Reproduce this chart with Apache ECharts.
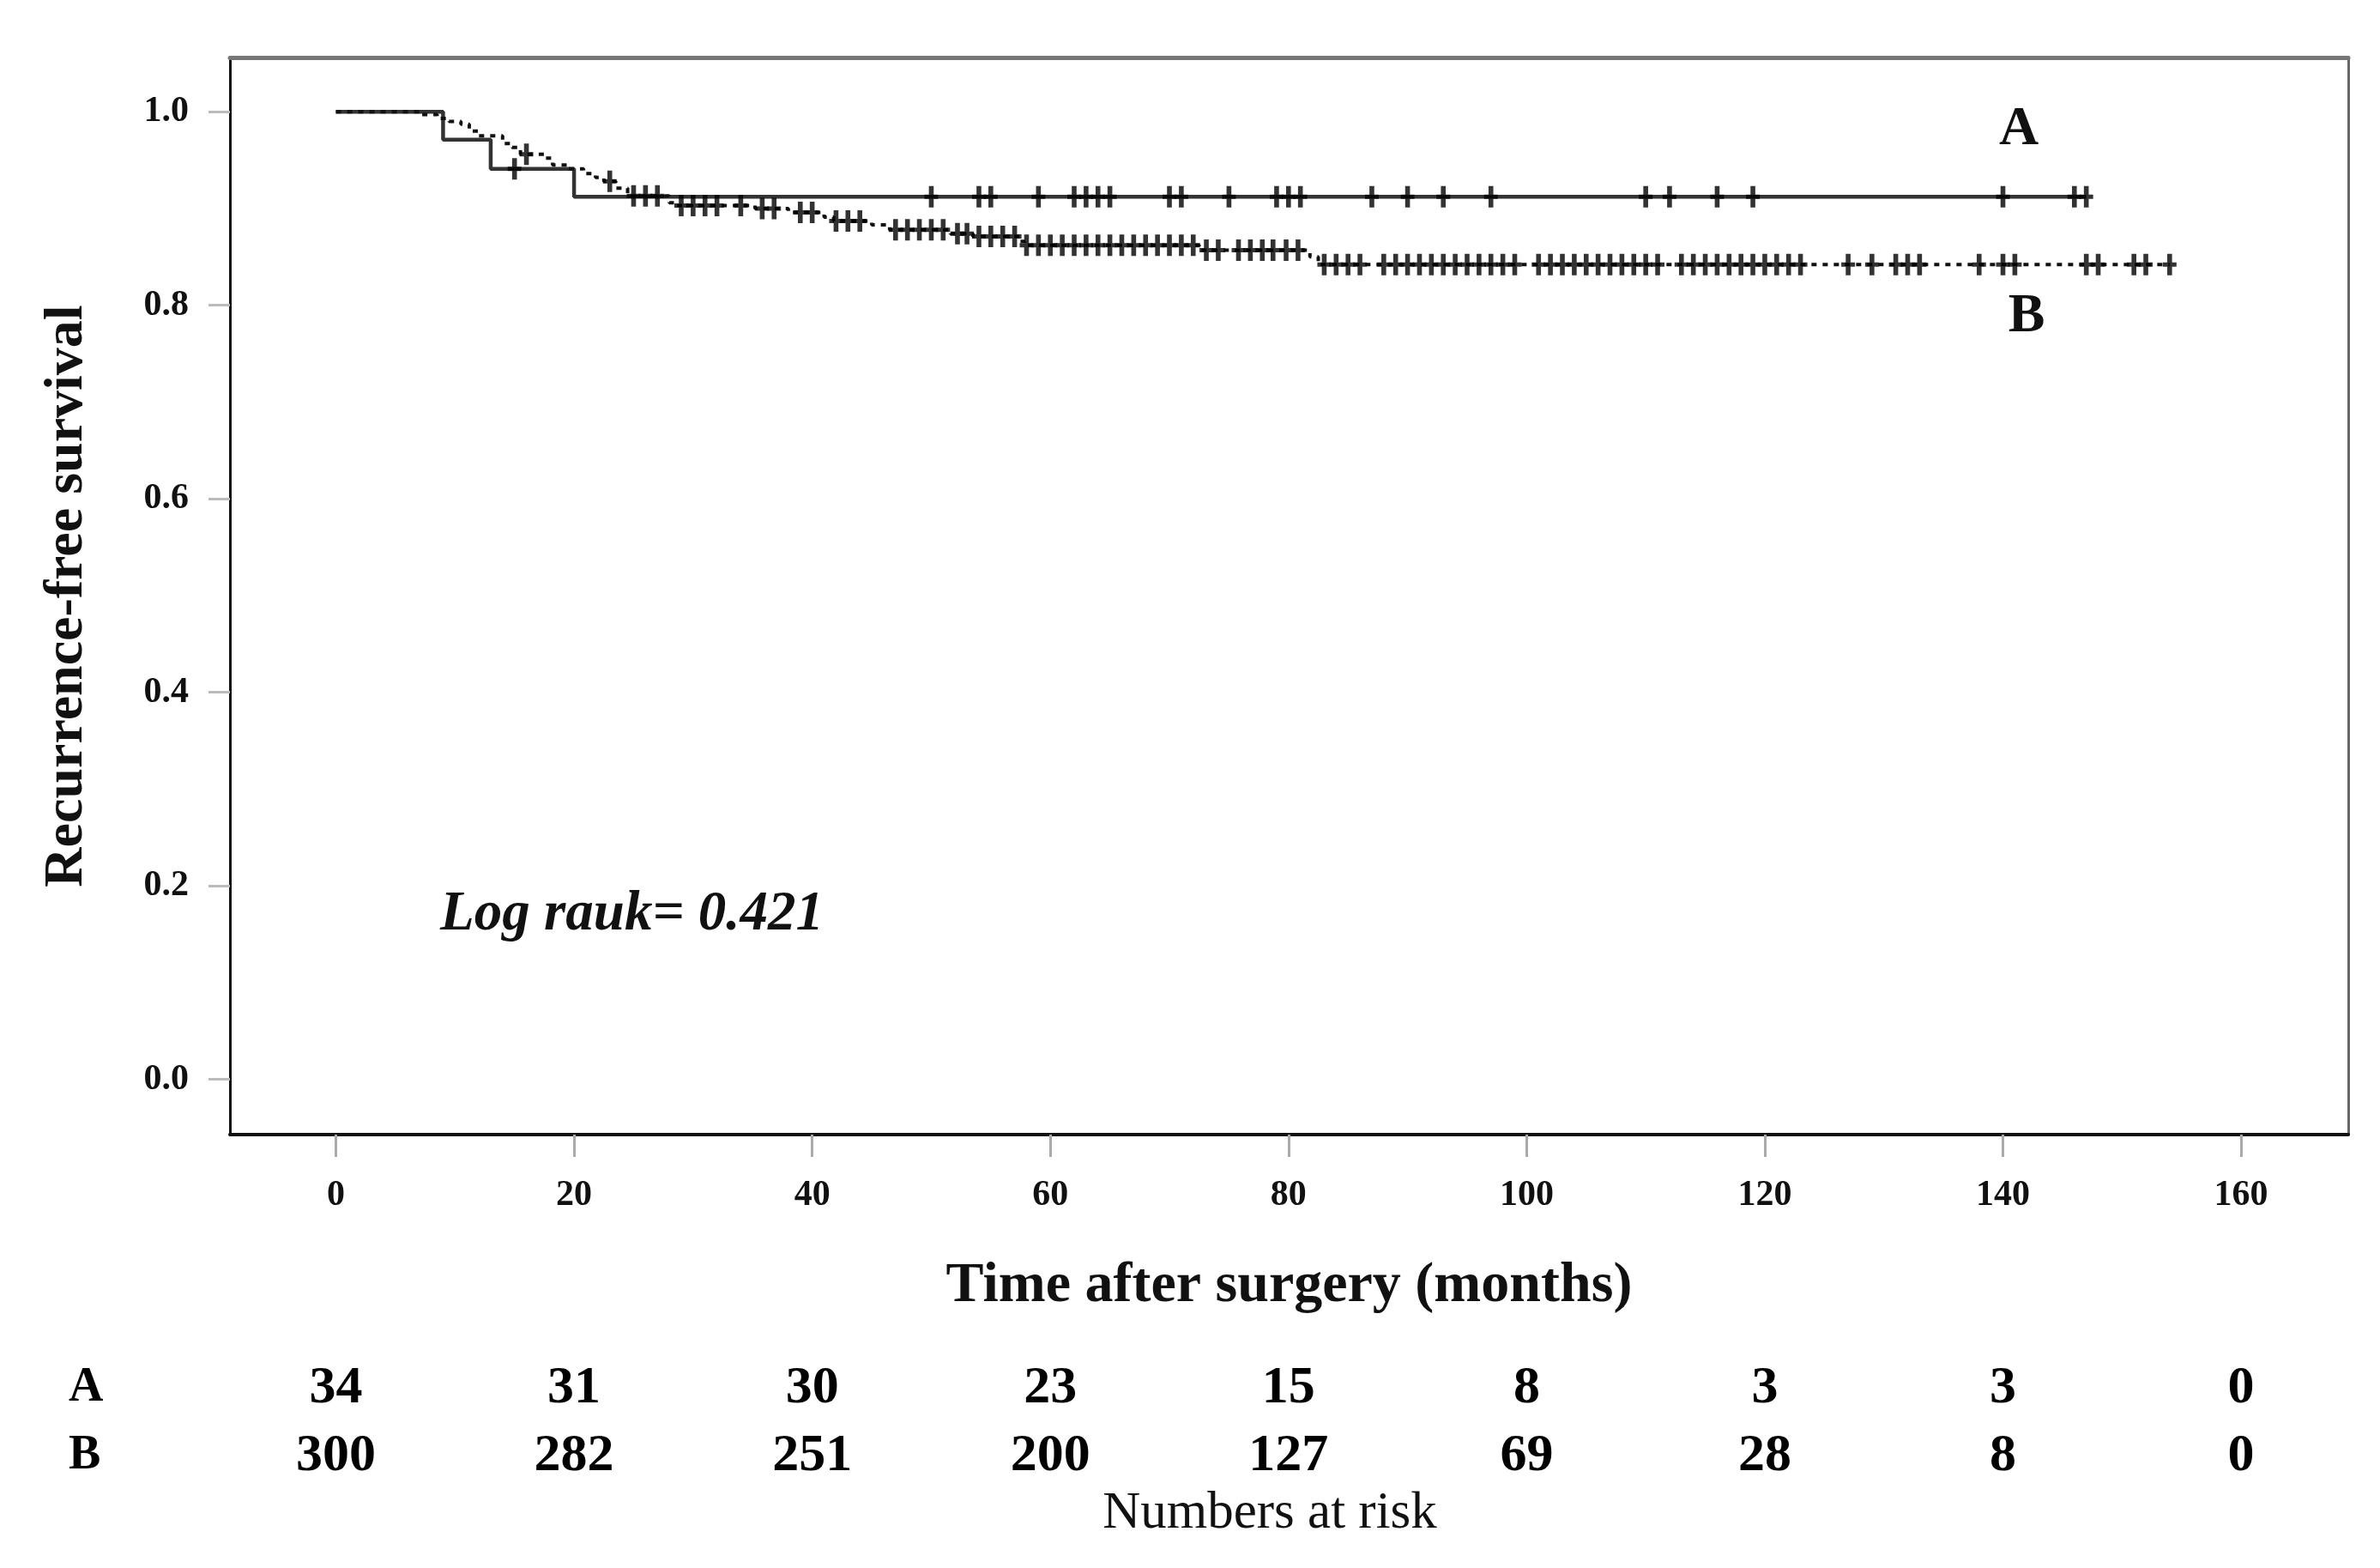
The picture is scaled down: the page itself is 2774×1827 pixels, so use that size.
<!DOCTYPE html>
<html><head><meta charset="utf-8">
<script src="https://cdn.jsdelivr.net/npm/echarts@6/dist/echarts.min.js"></script>
<style>html,body{margin:0;padding:0;background:#fff}#c{width:2774px;height:1827px}</style>
</head><body><div id="c"></div>
<script>
// Group A (solid line) Kaplan-Meier steps
const aTimes = [0, 9, 13, 20, 147];
const aSurv  = [1.0, 0.971, 0.941, 0.912, 0.912];
const aCensor = [15, 50, 54, 55, 59, 62, 63, 64, 65, 70, 71, 75, 79, 80, 81, 87, 90, 93, 97, 110, 112, 116, 119, 140, 146, 147];

// Group B (dotted line) Kaplan-Meier steps
const bTimes = [0, 7, 8.5, 9.5, 10.5, 11.2, 12, 14, 14.8, 15.5, 17.5, 18.2, 19.5, 20.8, 21.8, 22.5, 23.5, 24.5, 28.0, 28.6, 35.2, 38.0, 41.0, 41.8, 45.0, 46.5, 51.6, 53.5, 57.4, 57.8, 72.5, 81.8, 82.5, 154];
const bSurv  = [1.0, 0.997, 0.993, 0.990, 0.987, 0.980, 0.975, 0.967, 0.963, 0.956, 0.952, 0.945, 0.941, 0.936, 0.932, 0.928, 0.921, 0.913, 0.906, 0.903, 0.900, 0.896, 0.891, 0.887, 0.883, 0.878, 0.874, 0.871, 0.866, 0.862, 0.857, 0.850, 0.842, 0.842];
const bCensor = [16, 23, 25, 26, 27, 29, 30, 31, 32, 34, 35.8, 36.8, 39, 40, 42, 43, 44, 47, 48, 49, 50, 51, 52.2, 53, 54, 55, 56, 57,
  58, 59, 60, 61, 62, 63, 64, 65, 66, 67, 68, 69, 70, 71, 72, 73.1, 74.1, 75.8, 76.8, 77.8, 78.7, 79.8, 80.8,
  83, 84, 85, 86, 88, 89, 90, 91, 92, 93, 94, 95, 96, 97, 98, 99, 101, 102, 103, 104, 105, 106, 107, 108, 109, 110, 111,
  113, 114, 115, 116, 117, 118, 119, 120, 121, 122, 123, 127, 129, 131, 132, 133, 138, 140, 141, 147, 148, 151, 152, 154];

// Axis ticks
const xTicks = [0, 20, 40, 60, 80, 100, 120, 140, 160];
const yTicks = [0.0, 0.2, 0.4, 0.6, 0.8, 1.0];

// Numbers at risk
const riskTimes = [0, 20, 40, 60, 80, 100, 120, 140, 160];
const riskA = [34, 31, 30, 23, 15, 8, 3, 3, 0];
const riskB = [300, 282, 251, 200, 127, 69, 28, 8, 0];
const groups = ['A', 'B'];

function levelAt(times, surv, t) {
  let v = surv[0];
  for (let i = 0; i < times.length; i++) { if (times[i] <= t) v = surv[i]; }
  return v;
}
const zip = (xs, ys) => xs.map((x, i) => [x, ys[i]]);

const SERIF = '"Liberation Serif", "Times New Roman", serif';
const XMIN = -8.9, XMAX = 169, YMIN = -0.057, YMAX = 1.056;
const cross = 'path://M-2.8,-12L2.8,-12L2.8,-2.4L8,-2.4L8,2.4L2.8,2.4L2.8,12L-2.8,12L-2.8,2.4L-8,2.4L-8,-2.4L-2.8,-2.4Z';

const riskData = [];
riskTimes.forEach((t, i) => { riskData.push([t, 'A', riskA[i]]); riskData.push([t, 'B', riskB[i]]); });

const chart = echarts.init(document.getElementById('c'));
chart.setOption({
  animation: false,
  backgroundColor: '#fff',
  grid: [
    { left: 268, right: 37, top: 67, bottom: 505 },
    { left: 268, right: 37, top: 1578, height: 158 }
  ],
  xAxis: [
    { type: 'value', gridIndex: 0, min: XMIN, max: XMAX, position: 'bottom',
      axisLine: { show: true, onZero: false, lineStyle: { color: '#111', width: 4 } },
      axisTick: { show: true, customValues: xTicks, length: 26, lineStyle: { color: '#aaa', width: 3 } },
      axisLabel: { show: true, customValues: xTicks, margin: 50, color: '#111', fontFamily: SERIF, fontWeight: 'bold', fontSize: 42 },
      splitLine: { show: false },
      name: 'Time after surgery (months)', nameLocation: 'middle', nameGap: 144,
      nameTextStyle: { color: '#111', fontFamily: SERIF, fontWeight: 'bold', fontSize: 66 } },
    { type: 'value', gridIndex: 0, min: XMIN, max: XMAX, position: 'top',
      axisLine: { show: true, onZero: false, lineStyle: { color: '#777', width: 5 } },
      axisTick: { show: false }, axisLabel: { show: false }, splitLine: { show: false } },
    { type: 'value', gridIndex: 1, min: XMIN, max: XMAX, show: false }
  ],
  yAxis: [
    { type: 'value', gridIndex: 0, min: YMIN, max: YMAX, position: 'left',
      axisLine: { show: true, onZero: false, lineStyle: { color: '#111', width: 3 } },
      axisTick: { show: true, customValues: yTicks, length: 25, lineStyle: { color: '#bbb', width: 3 } },
      axisLabel: { show: true, customValues: yTicks, margin: 48, color: '#111', fontFamily: SERIF, fontWeight: 'bold', fontSize: 42,
        formatter: v => Number(v).toFixed(1) },
      splitLine: { show: false },
      name: 'Recurrence-free survival', nameLocation: 'middle', nameGap: 158, nameRotate: 90,
      nameTextStyle: { color: '#111', fontFamily: SERIF, fontWeight: 'bold', fontSize: 64 } },
    { type: 'value', gridIndex: 0, min: YMIN, max: YMAX, position: 'right',
      axisLine: { show: true, onZero: false, lineStyle: { color: '#666', width: 3 } },
      axisTick: { show: false }, axisLabel: { show: false }, splitLine: { show: false } },
    { type: 'category', gridIndex: 1, data: groups, inverse: true,
      axisLine: { show: false }, axisTick: { show: false }, splitLine: { show: false },
      axisLabel: { show: true, align: 'left', margin: 188, color: '#000', fontFamily: SERIF, fontWeight: 'bold', fontSize: 56 } }
  ],
  series: [
    { name: 'A', type: 'line', xAxisIndex: 0, yAxisIndex: 0, step: 'end', data: zip(aTimes, aSurv),
      symbol: 'none', lineStyle: { color: '#333', width: 4.5 }, z: 3 },
    { name: 'B', type: 'line', xAxisIndex: 0, yAxisIndex: 0, step: 'end', data: zip(bTimes, bSurv),
      symbol: 'none', lineStyle: { color: '#111', width: 4, type: [6, 7] }, z: 3 },
    { name: 'A censored', type: 'scatter', xAxisIndex: 0, yAxisIndex: 0,
      data: aCensor.map(t => [t, levelAt(aTimes, aSurv, t)]),
      symbol: cross, symbolSize: [16, 25], itemStyle: { color: '#000' }, z: 4 },
    { name: 'B censored', type: 'scatter', xAxisIndex: 0, yAxisIndex: 0,
      data: bCensor.map(t => [t, levelAt(bTimes, bSurv, t)]),
      symbol: cross, symbolSize: [16, 25], itemStyle: { color: '#000' }, z: 4 },
    { name: 'risk', type: 'scatter', xAxisIndex: 2, yAxisIndex: 2, data: riskData,
      encode: { x: 0, y: 1 },
      symbol: 'circle', symbolSize: 0, itemStyle: { color: 'rgba(255,255,255,0)' },
      label: { show: true, position: 'inside', formatter: p => String(p.value[2]),
        color: '#000', textBorderWidth: 0, opacity: 1, fontFamily: SERIF, fontWeight: 'bold', fontSize: 62 },
      labelLayout: { hideOverlap: false }, z: 5 }
  ],
  graphic: [
    { type: 'text', left: 513, top: 1034, style: { text: 'Log rauk= 0.421', font: 'italic bold 65px ' + SERIF, fill: '#111' } },
    { type: 'text', x: 2353, y: 151, style: { text: 'A', font: 'bold 64px ' + SERIF, fill: '#111', align: 'center', verticalAlign: 'middle' } },
    { type: 'text', x: 2362, y: 369, style: { text: 'B', font: 'bold 64px ' + SERIF, fill: '#111', align: 'center', verticalAlign: 'middle' } },
    { type: 'text', x: 1480, y: 1764, style: { text: 'Numbers at risk', font: '61px ' + SERIF, fill: '#111', align: 'center', verticalAlign: 'middle' } }
  ]
});
</script></body></html>
